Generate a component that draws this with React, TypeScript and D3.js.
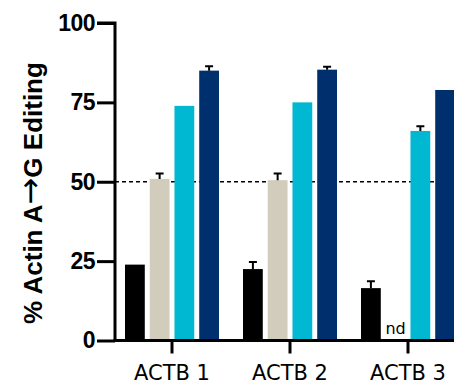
import { useEffect, useRef } from "react"
import * as d3 from "d3"

const categories = ["ACTB 1", "ACTB 2", "ACTB 3"]
const series = ["s1", "s2", "s3", "s4"]
const colors = ["#000000", "#d2ccbd", "#00b8d1", "#002f6d"]
// values per series, per category (null = not detected)
const s1Values = [23.9, 22.5, 16.5]
const s1Errors = [0, 2.2, 2.2]
const s2Values = [50.9, 50.5, null]
const s2Errors = [1.7, 2.1, 0]
const s3Values = [73.9, 75.0, 66.0]
const s3Errors = [0, 0, 1.5]
const s4Values = [85.0, 85.3, 78.9]
const s4Errors = [1.4, 0.9, 0]
const yTicks = [0, 25, 50, 75, 100]
const refLine = 50

export default function App() {
    const svgRef = useRef(null)
    const width = 454, height = 388

    useEffect(() => {
        const svg = d3.select(svgRef.current)
        svg.selectAll("*").remove()

        const margin = { left: 115, top: 23, bottom: 48 }
        const y = d3.scaleLinear().domain([0, 100]).range([height - margin.bottom + 0.5, margin.top])
        const x0 = d3.scaleBand().domain(categories).range([113, 467])
        const x1 = d3.scaleBand().domain(series).range([-47, 47]).paddingInner(0.2)

        const allValues = [s1Values, s2Values, s3Values, s4Values]
        const allErrors = [s1Errors, s2Errors, s3Errors, s4Errors]
        const rows = []
        categories.forEach((c, ci) => {
            series.forEach((s, si) => {
                rows.push({ c, s, si, v: allValues[si][ci], e: allErrors[si][ci] })
            })
        })

        const g = svg.append("g")

        // dashed reference line
        g.append("line")
            .attr("x1", margin.left).attr("x2", width)
            .attr("y1", y(refLine)).attr("y2", y(refLine))
            .attr("stroke", "#000").attr("stroke-width", 1.5)
            .attr("stroke-dasharray", "4,3")

        const bars = rows.filter(d => d.v != null)
        g.selectAll("rect.bar")
            .data(bars)
            .join("rect")
                .attr("class", "bar")
                .attr("x", d => x0(d.c) + x0.bandwidth() / 2 + x1(d.s))
                .attr("y", d => y(d.v))
                .attr("width", x1.bandwidth())
                .attr("height", d => y(0) - y(d.v))
                .style("fill", d => colors[d.si])

        // error bars (upper only)
        const errs = bars.filter(d => d.e > 0)
        const cx = d => x0(d.c) + x0.bandwidth() / 2 + x1(d.s) + x1.bandwidth() / 2
        g.selectAll("path.err")
            .data(errs)
            .join("path")
                .attr("class", "err")
                .attr("d", d => `M${cx(d)},${y(d.v)}V${y(d.v + d.e)}M${cx(d) - 4},${y(d.v + d.e)}H${cx(d) + 4}`)
                .attr("stroke", "#000").attr("stroke-width", 2).attr("fill", "none")

        // nd label
        rows.filter(d => d.v == null).forEach(d => {
            g.append("text")
                .attr("x", cx(d))
                .attr("y", y(0) - 7)
                .attr("text-anchor", "middle")
                .style("font-family", "'DejaVu Sans', sans-serif")
                .style("font-size", "16px")
                .text("nd")
        })

        // y axis
        const yAxis = g.append("g")
            .attr("transform", `translate(${margin.left},0)`)
            .call(d3.axisLeft(y).tickValues(yTicks).tickSize(18).tickPadding(2))
        yAxis.select(".domain").attr("stroke-width", 3).attr("d", `M0,${y(0)}V${y(100)}H-18`)
        yAxis.selectAll(".tick line").attr("stroke-width", 3)
        yAxis.selectAll(".tick text")
            .style("font-family", "'Liberation Sans', Arial, sans-serif")
            .style("font-weight", "bold")
            .style("font-size", "23px")
            .style("letter-spacing", "-0.5px")
            .attr("fill", "#000")

        // x axis
        const xAxis = g.append("g")
            .attr("transform", `translate(0,${y(0)})`)
            .call(d3.axisBottom(x0).tickSize(13).tickPadding(12))
        xAxis.select(".domain").attr("stroke-width", 3).attr("d", `M${margin.left - 1.5},0H${width}`)
        xAxis.selectAll(".tick line").attr("stroke-width", 3)
        xAxis.selectAll(".tick text")
            .style("font-family", "'DejaVu Sans', Verdana, sans-serif")
            .style("font-size", "21px")
            .attr("fill", "#000")

        // y axis label
        const label = g.append("text")
            .attr("transform", `translate(42,193) rotate(-90)`)
            .attr("text-anchor", "middle")
            .style("font-family", "'Liberation Sans', Arial, sans-serif")
            .style("font-weight", "bold")
            .style("font-size", "26px")
        label.append("tspan").text("% Actin A")
        label.append("tspan")
            .style("font-family", "'DejaVu Sans', sans-serif")
            .style("font-weight", "normal")
            .style("font-size", "32px")
            .attr("dy", -1)
            .text("\u2192")
        label.append("tspan").attr("dy", 1).text("G Editing")
    }, [])

    return (
        <svg ref={svgRef} width={width} height={height}
            style={{ position: "absolute", left: 0, top: 0, background: "#fff" }}></svg>
    )
}
